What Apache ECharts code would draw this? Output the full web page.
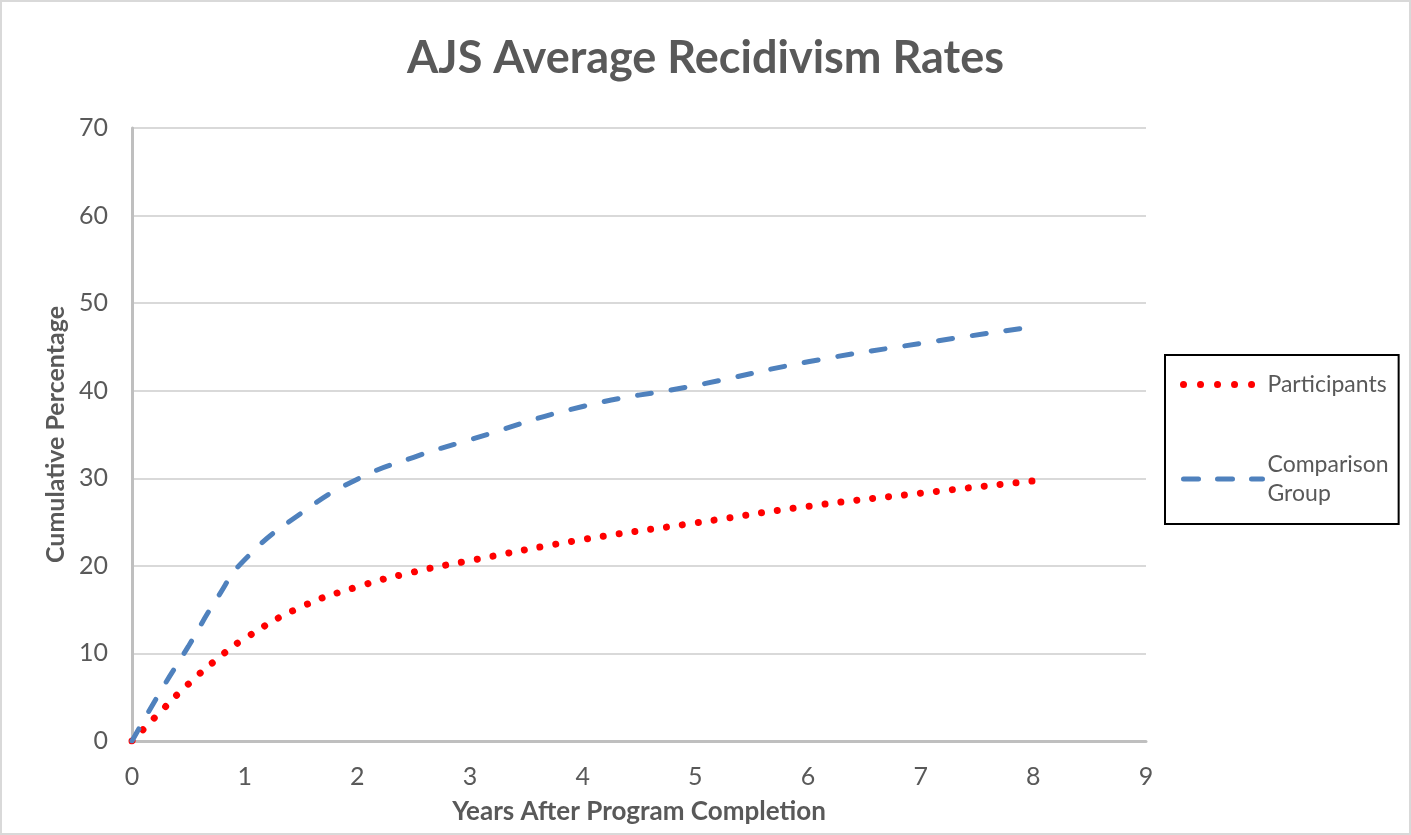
<!DOCTYPE html>
<html>
<head>
	<title>AJS Average Recidivism Rates</title>
	<meta charset="utf-8">
	<style type="text/css">
		body{
			margin: 0;
			background: #fff;
		}
		#chart{
			position: absolute;
			left: 0;
			top: 0;
			width: 1411px;
			height: 835px;
		}
		#frame{
			position: absolute;
			left: 0;
			top: 0;
			width: 1411px;
			height: 835px;
			box-sizing: border-box;
			border: 2px solid #d9d9d9;
			pointer-events: none;
		}
	</style>
</head>
<body>
	<div id="chart"></div>
	<div id="frame"></div>

	<script src="https://cdn.jsdelivr.net/npm/echarts@6/dist/echarts.min.js"></script>
	<script type="text/javascript">
	// years after completion (x) and cumulative % (y)
	var years = [0, 0.25, 0.5, 0.75, 1, 1.5, 2, 2.5, 3, 4, 5, 6, 7, 8];
	var participants = [0, 3.3, 6.5, 9.3, 11.7, 15.3, 17.6, 19.3, 20.6, 23.0, 24.9, 26.8, 28.3, 29.7];
	var comparison = [0, 5.6, 10.8, 16.2, 20.7, 26.0, 29.9, 32.4, 34.4, 38.2, 40.6, 43.3, 45.4, 47.3];
	var xTicks = [0, 9, 1];   // min, max, step
	var yTicks = [0, 70, 10];

	function pairs(xs, ys) {
		var out = [];
		for (var i = 0; i < xs.length; i++) {
			out.push([xs[i], ys[i]]);
		}
		return out;
	}

	var font = 'Lato';
	var grey = '#595959';
	var red = '#ff0000';
	var blue = '#4f81bd';
	var dotStyle = {color: red, width: 7, type: [0.01, 16], cap: 'round'};
	var dashStyle = {color: blue, width: 5, type: [14, 20], cap: 'round'};

	var myChart = echarts.init(document.getElementById('chart'));
	var option = {
		animation: false,
		backgroundColor: '#fff',
		title: {
			text: 'AJS Average Recidivism Rates',
			left: 'center',
			top: 31,
			textStyle: {
				fontFamily: font,
				fontSize: 45,
				fontWeight: 'bold',
				color: grey
			}
		},
		legend: {
			orient: 'vertical',
			left: 1165,
			top: 355,
			padding: [15, 10, 16, 12],
			itemGap: 51,
			itemWidth: 82,
			itemHeight: 14,
			borderColor: '#000',
			borderWidth: 2,
			itemStyle: {opacity: 0},
			textStyle: {
				fontFamily: font,
				fontSize: 23,
				color: grey,
				lineHeight: 29
			},
			formatter: function (name) {
				return name === 'Comparison Group' ? 'Comparison\nGroup' : name;
			},
			data: [
				{name: 'Participants', lineStyle: {width: 7, type: [0.01, 17], cap: 'round', dashOffset: -3}},
				{name: 'Comparison Group', lineStyle: {width: 5, type: [15, 19], cap: 'round', dashOffset: -3}}
			]
		},
		grid: {
			left: 132,
			right: 265,
			top: 128,
			bottom: 94,
			containLabel: false
		},
		xAxis: {
			type: 'value',
			min: xTicks[0],
			max: xTicks[1],
			interval: xTicks[2],
			name: 'Years After Program Completion',
			nameLocation: 'middle',
			nameGap: 58,
			nameTextStyle: {
				fontFamily: font,
				fontSize: 26,
				fontWeight: 'bold',
				color: grey
			},
			axisLine: {show: true, lineStyle: {color: '#bfbfbf', width: 3}},
			axisTick: {show: false},
			splitLine: {show: false},
			axisLabel: {
				margin: 23,
				fontFamily: font,
				fontSize: 25,
				color: grey
			}
		},
		yAxis: {
			type: 'value',
			min: yTicks[0],
			max: yTicks[1],
			interval: yTicks[2],
			name: 'Cumulative Percentage',
			nameLocation: 'middle',
			nameGap: 64,
			nameTextStyle: {
				fontFamily: font,
				fontSize: 25,
				fontWeight: 'bold',
				color: grey
			},
			axisLine: {show: true, lineStyle: {color: '#bfbfbf', width: 3}},
			axisTick: {show: false},
			splitLine: {lineStyle: {color: '#d9d9d9', width: 2}},
			axisLabel: {
				margin: 24,
				fontFamily: font,
				fontSize: 25,
				color: grey
			}
		},
		series: [
			{
				name: 'Participants',
				type: 'line',
				smooth: true,
				symbol: 'none',
				color: red,
				lineStyle: dotStyle,
				data: pairs(years, participants)
			},
			{
				name: 'Comparison Group',
				type: 'line',
				smooth: true,
				symbol: 'none',
				color: blue,
				lineStyle: dashStyle,
				data: pairs(years, comparison)
			}
		]
	};
	myChart.setOption(option);
	</script>
</body>
</html>
